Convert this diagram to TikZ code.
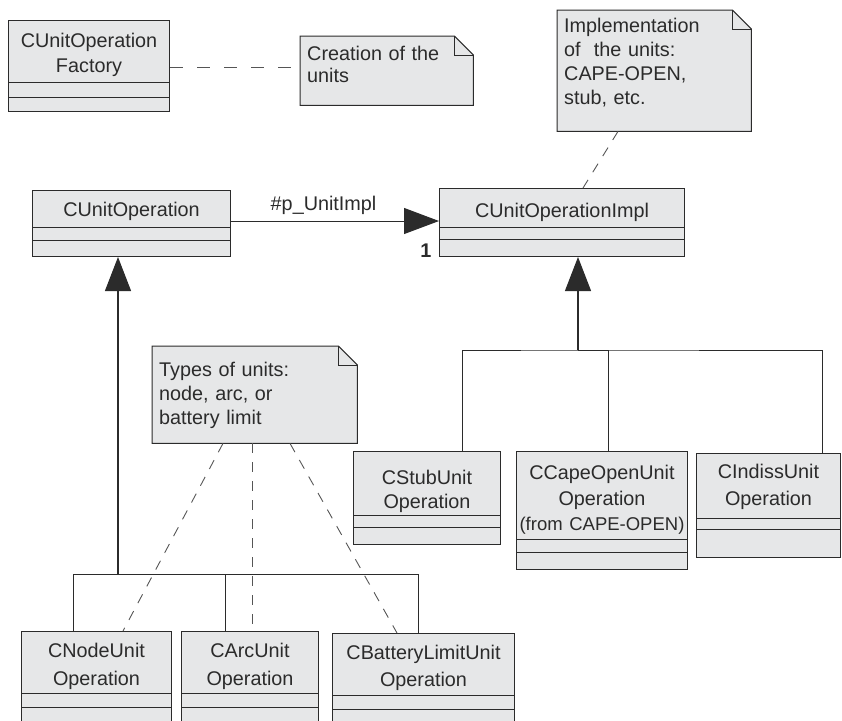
\documentclass[tikz,border=0pt]{standalone}
\usepackage{fontspec}
\setmainfont{Liberation Sans}
\usetikzlibrary{arrows.meta,backgrounds}

\definecolor{boxfill}{HTML}{E6E7E8}
\definecolor{ink}{HTML}{2B2B2B}
\definecolor{dashgray}{HTML}{555555}

\tikzset{
  umlclass/.style={draw=ink, fill=boxfill, line width=1pt, anchor=north west,
    inner xsep=0pt, inner ysep=0pt, align=center, text=ink,
    font=\fontsize{19.8}{24}\selectfont},
  umlnote/.style={anchor=north west, inner xsep=7pt, inner ysep=0pt,
    align=left, text=ink, font=\fontsize{19.8}{24}\selectfont},
  notebg/.style={draw=ink, fill=boxfill, line width=1pt},
  compart/.style={draw=ink, line width=1pt},
  tree/.style={draw=ink, line width=1pt},
  inherit/.style={draw=ink, line width=1.1pt, -{Triangle[length=34pt,width=26pt]}},
  assoc/.style={draw=ink, line width=1pt, -{Triangle[length=35pt,width=26pt]}},
  noteline/.style={draw=dashgray, line width=.9pt, dash pattern=on 10pt off 9pt},
}

\begin{document}
\begin{tikzpicture}[x=1pt,y=-1pt]
  \useasboundingbox (0,0) rectangle (842,720);
  \clip (0,0) rectangle (842,720);

  % classes
  \begin{scope}[every node/.style={umlclass}]
    \node[text width=161pt, text height=27pt, text depth=64pt] (fact)   at (8,20)    {CUnitOperation\\[1pt]Factory};
    \node[text width=198pt, text height=26pt, text depth=40pt] (cop)    at (32,190)  {CUnitOperation};
    \node[text width=245pt, text height=29pt, text depth=39pt] (impl)   at (439,188) {CUnitOperationImpl};
    \node[text width=147pt, text height=33pt, text depth=60pt] (stub)   at (353,451) {CStubUnit\\Operation};
    \node[text width=171pt, text height=28pt, text depth=90pt] (cape)   at (516,451) {CCapeOpenUnit\\[1.5pt]Operation\\[1pt]{\fontsize{18.5}{24}\selectfont(from CAPE-OPEN)}};
    \node[text width=144pt, text height=25pt, text depth=79pt] (indiss) at (696,453) {CIndissUnit\\[3pt]Operation};
    \node[text width=150pt, text height=26pt, text depth=73pt] (cnode)  at (21,631)  {CNodeUnit\\[4pt]Operation};
    \node[text width=137pt, text height=26pt, text depth=73pt] (carc)   at (181,631) {CArcUnit\\[4pt]Operation};
    \node[text width=182pt, text height=26pt, text depth=71pt] (cbat)   at (332,633) {CBatteryLimitUnit\\[3pt]Operation};
  \end{scope}

  \foreach \n/\a/\b in {fact/82/97, cop/227/240, impl/227/239, stub/515/527,
      cape/539/552, indiss/518/529, cnode/693/707, carc/693/707, cbat/695/709}
    \draw[compart] (\n.west |- 0,\a) -- (\n.east |- 0,\a)
                   (\n.west |- 0,\b) -- (\n.east |- 0,\b);

  % notes
  \begin{scope}[every node/.style={umlnote}]
    \node[text width=159pt, text height=24pt, text depth=45pt]     (ncreate) at (300,36) {Creation of the\\[-1.5pt]units};
    \node[text width=180pt, text height=22pt, text depth=99pt]     (nimpl)   at (557,10) {Implementation\\of\ \ the units:\\CAPE-OPEN,\\stub, etc.};
    \node[text width=191pt, text height=30.7pt, text depth=66.3pt] (ntypes)  at (152,346) {Types of units:\\node, arc, or\\battery limit};
  \end{scope}

  \begin{scope}[on background layer]
    \foreach \n in {ncreate,nimpl,ntypes}{
      \filldraw[notebg] (\n.north west) -- ([xshift=-19pt]\n.north east)
        -- ([yshift=-19pt]\n.north east) -- (\n.south east) -- (\n.south west) -- cycle;
      \draw[notebg, fill=none] ([xshift=-19pt]\n.north east) |- ([yshift=-19pt]\n.north east);
    }
  \end{scope}

  % association
  \draw[assoc] (cop.east |- 0,221) -- (impl.west |- 0,221)
    node[pos=.445, above=6pt, inner sep=0pt, text=ink, font=\fontsize{19.8}{24}\selectfont] {\#p\_UnitImpl}
    node[pos=1, anchor=base east, xshift=-7pt, yshift=-36pt, inner sep=0pt, text=ink,
         font=\fontsize{19.8}{24}\selectfont\bfseries] {1};

  % generalisation
  \coordinate (hubL) at (118,574);
  \coordinate (hubR) at (578,350);
  \draw[inherit] (hubL) -- (hubL |- cop.south);
  \draw[inherit] (hubR) -- (hubR |- impl.south);
  \draw[tree] (cnode.north -| 73,0) |- (hubL) -| (cbat.north -| 418,0);
  \draw[tree] (carc.north -| 225,0) |- (hubL);
  \draw[tree] (stub.north -| 462,0) |- (hubR) -| (indiss.north -| 822,0);
  \draw[tree] (cape.north -| 608,0) |- (hubR);

  % note links
  \draw[noteline, dash pattern=on 13pt off 14pt] (fact.east |- 0,67) -- (ncreate.west |- 0,67);
  \draw[noteline] (nimpl.south -| 618,0) -- (impl.north -| 583,0);
  \draw[noteline] (ntypes.south -| 223,0) -- (cnode.north -| 123,0);
  \draw[noteline] (ntypes.south -| 252,0) -- (carc.north -| 252,0);
  \draw[noteline] (ntypes.south -| 290,0) -- (cbat.north -| 397,0);

\end{tikzpicture}
\end{document}
